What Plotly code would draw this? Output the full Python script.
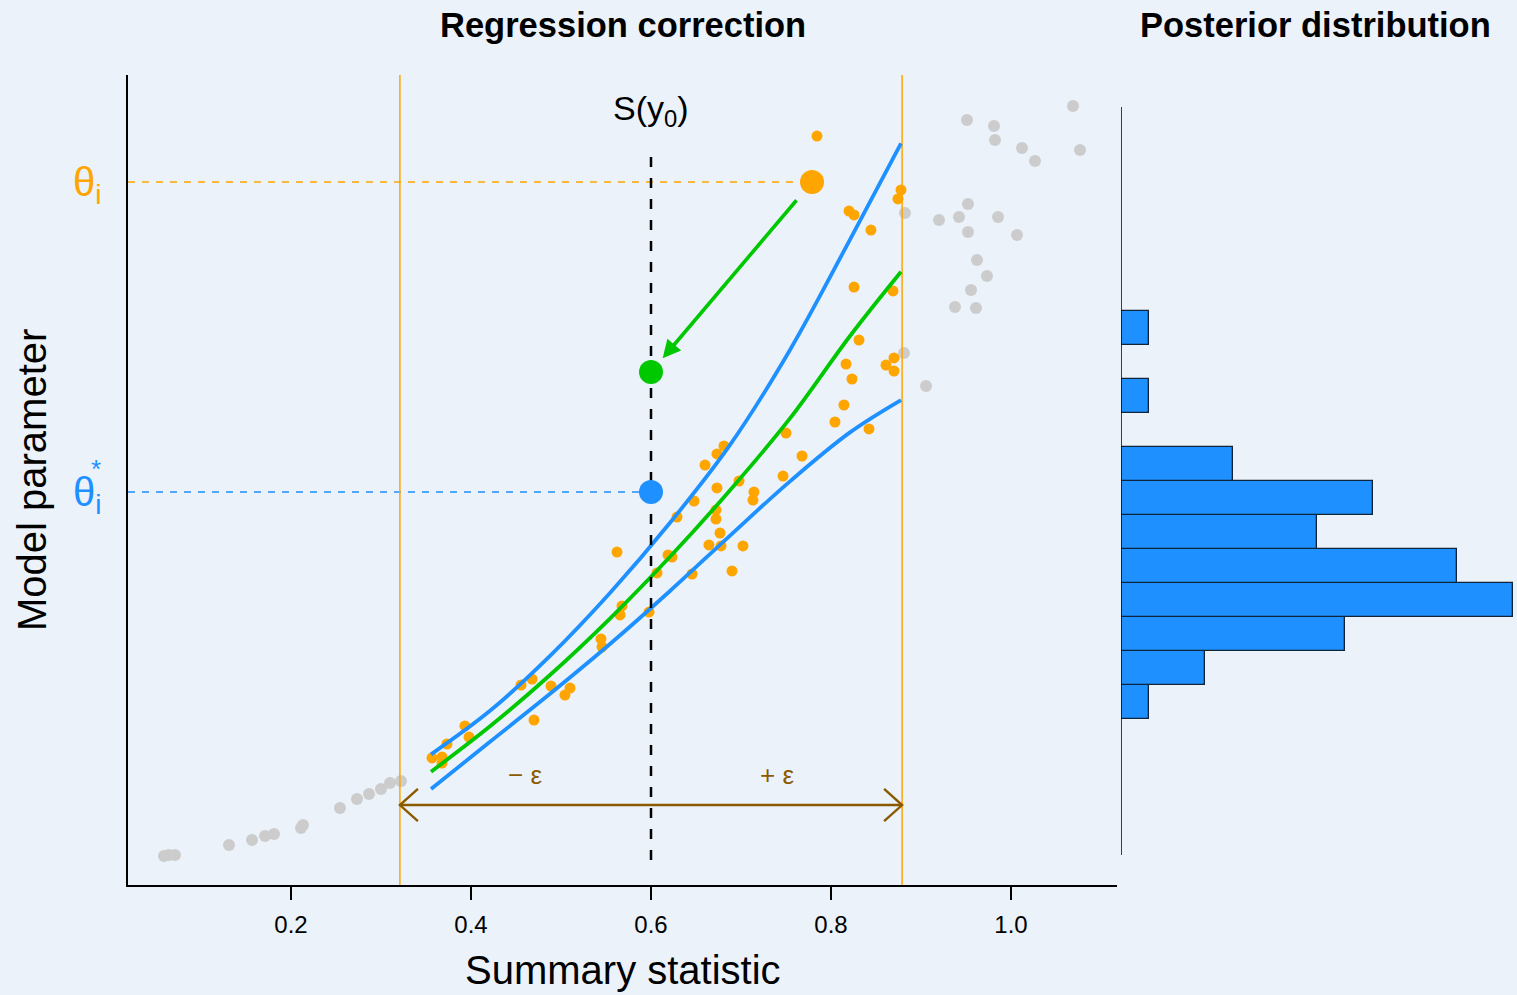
import plotly.graph_objects as go

# ---- data -----------------------------------------------------------------
s_obs = 0.6          # observed summary statistic S(y0)
eps = 0.279          # tolerance half-width

# simulations outside the tolerance window (rejected)
rej_x = [0.0589, 0.0644, 0.0711, 0.1311, 0.1567, 0.1711, 0.1811, 0.2111, 0.2133,
         0.2544, 0.2733, 0.2867, 0.3000, 0.3100, 0.3222,
         0.8822, 0.9511, 0.9811, 0.9822, 1.0122, 1.0267, 1.0689, 1.0767, 0.9522,
         0.9200, 0.9422, 0.9856, 0.9522, 1.0067, 0.9622, 0.9733, 0.9556, 0.9378,
         0.9611, 0.8811, 0.9056]
rej_y = [0.194, 0.200, 0.200, 0.259, 0.288, 0.312, 0.324, 0.359, 0.376,
         0.476, 0.529, 0.559, 0.588, 0.624, 0.635,
         3.976, 4.524, 4.488, 4.406, 4.359, 4.282, 4.606, 4.347, 4.029,
         3.935, 3.953, 3.953, 3.865, 3.847, 3.700, 3.606, 3.524, 3.424,
         3.418, 3.153, 2.959]

# accepted simulations
acc_x = [0.7844, 0.8778, 0.8744, 0.8200, 0.8256, 0.8444, 0.8256, 0.8689, 0.8311,
         0.8167, 0.8700, 0.8611, 0.8700, 0.8233, 0.8144, 0.8044, 0.8422, 0.7500,
         0.7678, 0.7467,
         0.6811, 0.6733, 0.6600, 0.6733, 0.6978, 0.7144, 0.7133, 0.6478, 0.6722,
         0.6722, 0.6289, 0.6767, 0.6644, 0.6778, 0.7022, 0.5622, 0.6189, 0.6233,
         0.6067, 0.6456, 0.6900, 0.5678, 0.5656, 0.5978,
         0.5444, 0.5456, 0.4556, 0.4678, 0.4889, 0.5100, 0.5044, 0.4700, 0.3933,
         0.3978, 0.3733, 0.3567, 0.3678, 0.3678]
acc_y = [4.429, 4.112, 4.059, 3.988, 3.965, 3.876, 3.541, 3.518, 3.229,
         3.088, 3.124, 3.082, 3.047, 3.000, 2.847, 2.747, 2.706, 2.682,
         2.547, 2.429,
         2.606, 2.559, 2.494, 2.359, 2.400, 2.335, 2.288, 2.282, 2.229,
         2.176, 2.188, 2.094, 2.024, 2.018, 2.018, 1.982, 1.965, 1.953,
         1.859, 1.853, 1.871, 1.665, 1.612, 1.629,
         1.471, 1.424, 1.200, 1.235, 1.194, 1.182, 1.141, 0.994, 0.959,
         0.894, 0.853, 0.771, 0.776, 0.741]

# highlighted simulation and its corrected values at S(y0)
theta_i_x, theta_i_y = 0.7789, 4.159
theta_proj = 3.041      # green point
theta_star = 2.335      # blue point

# local regression fit and its band
curve_x = [0.3556, 0.4211, 0.4878, 0.5544, 0.6211, 0.6878, 0.7544, 0.8211, 0.8778]
fit_y = [0.690, 0.957, 1.259, 1.591, 1.954, 2.346, 2.768, 3.253, 3.631]
up_y = [0.792, 1.048, 1.371, 1.741, 2.154, 2.612, 3.171, 3.820, 4.386]
lo_y = [0.588, 0.866, 1.148, 1.441, 1.753, 2.079, 2.398, 2.686, 2.876]

# posterior histogram (bottom-up bins)
bin_start = 1.0
bin_width = 0.2
counts = [1, 3, 8, 14, 12, 7, 9, 4, 0, 1, 0, 1]

tick_vals = [0.2, 0.4, 0.6, 0.8, 1.0]
tick_text = ["0.2", "0.4", "0.6", "0.8", "1.0"]

# ---- styling ----------------------------------------------------------------
W, H = 1517, 995
BG = "#EBF2FA"
ORANGE = "#FFA500"
BLUE = "#1E90FF"
GREEN = "#00C800"
GREY = "#CCCCCC"
BROWN = "#8B5A00"
FONT = "Liberation Sans, Arial, Helvetica, sans-serif"

x_lo, x_hi = (128 - 111) / 900, (1117 - 111) / 900
y_lo, y_hi = (889 - 885) / 170, (889 - 75) / 170
arrow_y = 0.494
dash_top, dash_bot = 4.335, 0.171

fig = go.Figure()

# guide lines to the labelled parameter values
fig.add_trace(go.Scatter(x=[x_lo, theta_i_x], y=[theta_i_y, theta_i_y], mode="lines",
                         line=dict(color=ORANGE, width=1.4, dash="7px,7px"),
                         hoverinfo="skip", showlegend=False))
fig.add_trace(go.Scatter(x=[x_lo, s_obs], y=[theta_star, theta_star], mode="lines",
                         line=dict(color=BLUE, width=1.4, dash="7px,7px"),
                         hoverinfo="skip", showlegend=False))

# simulations
fig.add_trace(go.Scatter(x=rej_x, y=rej_y, mode="markers",
                         marker=dict(color=GREY, size=12, line=dict(width=0)),
                         showlegend=False))
fig.add_trace(go.Scatter(x=acc_x, y=acc_y, mode="markers",
                         marker=dict(color=ORANGE, size=11, line=dict(width=0)),
                         showlegend=False))

# tolerance window
for xv in (s_obs - eps, s_obs + eps):
    fig.add_trace(go.Scatter(x=[xv, xv], y=[y_lo, y_hi], mode="lines",
                             line=dict(color=ORANGE, width=1.5),
                             hoverinfo="skip", showlegend=False))

# regression curves
for cy, col in ((up_y, BLUE), (lo_y, BLUE), (fit_y, GREEN)):
    fig.add_trace(go.Scatter(x=curve_x, y=cy, mode="lines",
                             line=dict(color=col, width=3.8, shape="spline", smoothing=1.0),
                             hoverinfo="skip", showlegend=False))

# observed statistic
fig.add_trace(go.Scatter(x=[s_obs, s_obs], y=[dash_bot, dash_top], mode="lines",
                         line=dict(color="black", width=2.5, dash="10px,11px"),
                         hoverinfo="skip", showlegend=False))

# +/- epsilon double arrow
hx, hy = 0.02, 0.095
a0, a1 = s_obs - eps, s_obs + eps
fig.add_trace(go.Scatter(
    x=[a0, a1, None, a0 + hx, a0, a0 + hx, None, a1 - hx, a1, a1 - hx],
    y=[arrow_y, arrow_y, None, arrow_y + hy, arrow_y, arrow_y - hy, None,
       arrow_y + hy, arrow_y, arrow_y - hy],
    mode="lines", line=dict(color=BROWN, width=2.4),
    hoverinfo="skip", showlegend=False))

# highlighted points
fig.add_trace(go.Scatter(x=[theta_i_x], y=[theta_i_y], mode="markers",
                         marker=dict(color=ORANGE, size=24), showlegend=False))
fig.add_trace(go.Scatter(x=[s_obs], y=[theta_proj], mode="markers",
                         marker=dict(color=GREEN, size=24), showlegend=False))
fig.add_trace(go.Scatter(x=[s_obs], y=[theta_star], mode="markers",
                         marker=dict(color=BLUE, size=24), showlegend=False))

# posterior histogram
centers = [bin_start + bin_width * (k + 0.5) for k in range(len(counts))]
fig.add_trace(go.Bar(x=counts, y=centers, orientation="h", width=bin_width,
                     xaxis="x2", yaxis="y",
                     marker=dict(color=BLUE, line=dict(color="#10243A", width=1.3)),
                     showlegend=False))

# histogram axis line
fig.add_shape(type="line", xref="x2", yref="y", x0=0, x1=0, y0=0.2, y1=4.6,
              line=dict(color="black", width=1.5))

# green correction arrow
fig.add_annotation(x=s_obs, y=theta_proj, ax=theta_i_x, ay=theta_i_y,
                   xref="x", yref="y", axref="x", ayref="y", text="",
                   showarrow=True, arrowhead=2, arrowsize=1.0, arrowwidth=3.6,
                   arrowcolor=GREEN, standoff=18, startstandoff=22)


def label(x, y, text, size, color="black", xref="paper", yref="paper",
          xanchor="center", **kw):
    fig.add_annotation(x=x, y=y, xref=xref, yref=yref, text=text,
                       xanchor=xanchor, yanchor="middle", showarrow=False,
                       font=dict(family=FONT, size=size, color=color), **kw)


label(623 / W, 1 - 25 / H, "<b>Regression correction</b>", 34.5)
label(1315 / W, 1 - 25 / H, "<b>Posterior distribution</b>", 34.5)
label(623 / W, 1 - 970 / H, "Summary statistic", 40)
label(32 / W, 1 - 480 / H, "Model parameter", 40, textangle=-90)
label(s_obs, 1 - 110 / H, "S(y<sub>0</sub>)", 34, xref="x")
label(103 / W, theta_i_y, "θ<sub>i</sub>", 40, ORANGE, yref="y", xanchor="right", yshift=-3)
label(103 / W, theta_star, "θ<sub>i</sub>", 40, BLUE, yref="y", xanchor="right", yshift=-3)
label(96 / W, theta_star, "*", 26, BLUE, yref="y", yshift=23)
label(s_obs - eps / 2, 0.671, "− ε", 26, BROWN, xref="x", yref="y")
label(s_obs + eps / 2, 0.671, "+ ε", 26, BROWN, xref="x", yref="y")

fig.update_layout(
    width=W, height=H,
    margin=dict(l=0, r=0, t=0, b=0),
    paper_bgcolor=BG, plot_bgcolor=BG,
    font=dict(family=FONT, color="black"),
    showlegend=False,
    xaxis=dict(domain=[128 / W, 1117 / W], range=[x_lo, x_hi],
               showgrid=False, zeroline=False, showline=True,
               linecolor="black", linewidth=1.5,
               ticks="outside", ticklen=13, tickwidth=1.5, tickcolor="black",
               tickvals=tick_vals, ticktext=tick_text, ticklabelstandoff=4,
               tickfont=dict(size=24, color="black"), anchor="y"),
    yaxis=dict(domain=[(H - 885) / H, (H - 75) / H], range=[y_lo, y_hi],
               showgrid=False, zeroline=False, showline=True,
               linecolor="black", linewidth=1.5, showticklabels=False,
               ticks="", anchor="x"),
    xaxis2=dict(domain=[1121 / W, 1.0], range=[0, 396 / 28], visible=False,
                anchor="y", showgrid=False, zeroline=False),
    bargap=0,
)

fig.write_html("out.html")
